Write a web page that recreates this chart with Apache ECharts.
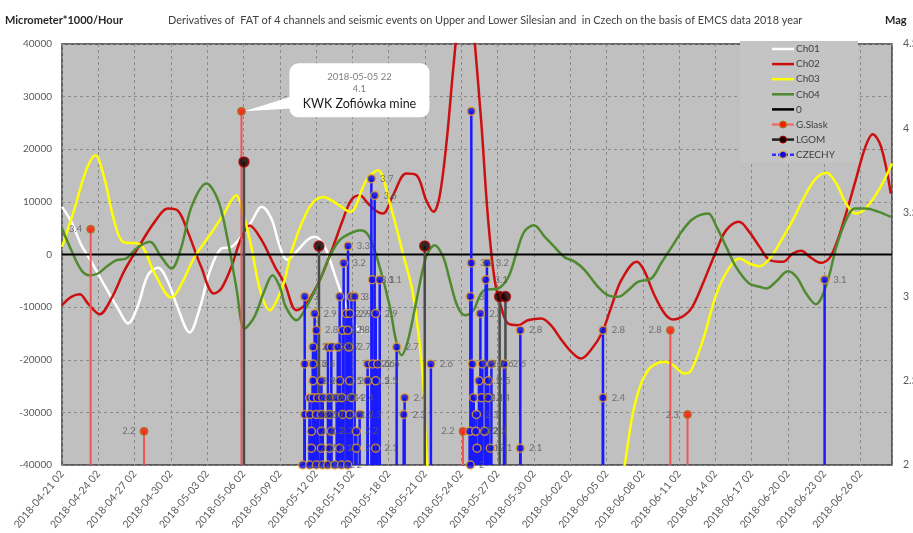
<!DOCTYPE html>
<html>
<head>
<meta charset="utf-8">
<script src="https://cdn.jsdelivr.net/npm/echarts@6/dist/echarts.min.js"></script>
<style>
  html, body { margin: 0; padding: 0; background: #ffffff; }
  #chart { width: 913px; height: 533px; }
</style>
</head>
<body>
<div id="chart"></div>
<script>
// Horizontal position of every point is given in days after 2018-04-21 02:00.
const startTime = Date.UTC(2018, 3, 21, 2);
const dayMin = 0;
const dayMax = 68.6;
const dayStep = 3;

const valueMin = -40000;
const valueMax = 40000;
const valueStep = 10000;

const magMin = 2;
const magMax = 4.5;
const magStep = 0.5;

// Derivative of FAT, micrometer*1000/hour
const ch01 = [[0,9050],[0.77,6200],[1.6,1770],[2.43,-1400],[3.5,-5830],[4.63,-10270],[5.46,-13120],[6.28,-9630],[7.1,-3930],[7.94,-2530],[8.76,-5190],[9.59,-10270],[10.55,-14820],[11.38,-10270],[12.2,-3300],[13.17,1140],[14.0,1450],[14.7,3040],[15.65,6200],[16.5,9050],[17.3,6830],[18.0,1500],[18.6,-1000],[19.4,600],[20.3,2800],[20.9,3360],[21.57,2090],[22.1,-760],[22.7,-4880],[23.5,-9950],[24.3,-13750],[24.85,-14960]];

const ch02 = [[0,-9630],[0.77,-8050],[1.46,-7540],[2.15,-9320],[3.12,-11340],[4.08,-8360],[5.18,-2980],[6.42,1770],[7.66,6200],[8.76,8730],[9.59,8290],[10.4,4300],[11.5,-2340],[12.56,-7410],[13.17,-6460],[14.0,-2340],[14.8,3040],[15.5,5510],[16.5,2720],[17.6,-2340],[18.4,-5510],[19.37,-10580],[20.2,-9320],[21.3,-4880],[22.4,1450],[23.2,6520],[23.9,10320],[24.6,11270],[25.3,9680],[26.0,8220],[26.53,7780],[27.36,11270],[28.46,15390],[29.3,15070],[30.1,10320],[30.7,8100],[31.2,10950],[31.8,21730],[32.3,34400],[32.9,48000],[33.4,54000],[33.8,49000],[34.1,40700],[34.66,24900],[35.2,7150],[35.76,-4880],[36.3,-9950],[36.86,-13120],[37.7,-13440],[38.5,-12490],[39.6,-12170],[40.4,-13440],[41.3,-16290],[42.1,-18510],[42.9,-19780],[43.7,-18190],[44.6,-15020],[45.4,-9950],[46.23,-4880],[47.5,-1390],[48.1,-2980],[48.9,-7410],[49.8,-11210],[50.5,-12350],[51.46,-11530],[52.1,-9950],[52.97,-5510],[54.1,830],[54.9,4630],[55.95,6200],[56.8,4300],[57.66,1450],[58.5,-1080],[59.6,-1390],[60.4,190],[61.1,700],[61.8,-450],[62.7,-1590],[63.4,-760],[64.0,2090],[64.8,7780],[65.6,14120],[66.4,20460],[67.0,22860],[67.7,20460],[68.5,11590]];

const ch03 = [[0,1450],[1.0,8500],[2.0,16000],[2.76,18870],[3.5,14500],[4.3,6500],[5.05,2400],[6.4,2000],[7.66,-3600],[9.04,-8170],[9.9,-5500],[10.96,-450],[12.3,3990],[13.4,7800],[14.4,11270],[14.9,8500],[15.65,1450],[16.4,-7000],[17.2,-10580],[18.0,-7410],[18.4,-4880],[19.09,1450],[20.47,9050],[21.57,10950],[22.7,9680],[23.8,8100],[25.15,14120],[26.1,16020],[27.1,9680],[28.18,177],[29.0,-7410],[29.8,-22600],[30.2,-40000],[31.0,-50000],[34.0,-62000],[40.0,-65000],[44.0,-58000],[46.0,-45000],[46.5,-40000],[47.3,-28970],[48.43,-22000],[49.8,-20400],[50.5,-21000],[51.46,-22600],[52.0,-22000],[52.97,-16290],[54.1,-7410],[55.2,-2340],[56.0,-760],[56.8,-1710],[57.66,-2220],[58.5,-760],[59.3,2090],[60.4,6520],[61.5,11590],[62.3,14440],[63.17,15520],[64.0,13490],[64.8,9680],[65.6,7780],[66.4,8730],[67.5,12220],[68.6,17290]];

const ch04 = [[0,4940],[0.77,820],[1.6,-2980],[2.29,-3930],[2.98,-3610],[3.67,-2340],[4.5,-1080],[5.3,-760],[6.15,1140],[7.25,2400],[8.2,-450],[9.04,-2660],[9.87,1450],[10.7,9050],[11.93,13490],[12.9,10320],[13.7,2720],[14.4,-6140],[15.1,-14060],[15.9,-11840],[16.75,-6770],[17.4,-3930],[18.0,-6140],[18.5,-9950],[19.37,-12490],[20.2,-9950],[21.3,-4880],[22.1,-450],[22.95,2720],[23.8,3990],[24.7,4630],[25.4,3360],[26.25,-2340],[27.1,-9950],[27.6,-16290],[28.05,-19140],[28.6,-16290],[29.3,-8680],[30.1,-450],[30.8,1770],[31.5,-450],[32.05,-4880],[32.7,-9950],[33.3,-11530],[34.0,-10580],[34.5,-8050],[34.9,-6770],[36.03,-6460],[36.9,-4240],[37.55,190],[38.2,4300],[39.0,5560],[39.9,3360],[40.7,1450],[41.5,-450],[42.4,-1400],[43.2,-2980],[44.3,-6140],[45.1,-7730],[45.95,-8050],[46.8,-6770],[47.6,-5190],[48.7,-4560],[49.5,-1710],[50.4,1450],[51.2,4300],[52.0,6500],[52.7,7470],[53.4,7780],[54.1,5250],[54.9,1450],[55.7,-2340],[56.8,-5510],[57.66,-6140],[58.2,-6460],[59.0,-5190],[60.0,-3170],[60.7,-4240],[61.5,-7410],[62.3,-9440],[63.17,-5830],[64.0,1450],[64.8,6520],[65.5,8730],[66.4,8730],[67.5,8100],[68.5,7150]];

const zeroLine = [[dayMin, 0], [dayMax, 0]];

// Seismic events: [day, magnitude]
const gSlask = [[2.37,3.4],[6.78,2.2],[14.833,4.1],[33.14,2.2],[50.28,2.8],[51.7,2.3]];
const lgom = [[15.04,3.8],[21.24,3.3],[29.98,3.3],[36.17,3.0],[36.65,3.0]];
const czechy = [
  [25.57,3.7],[25.84,3.6],[23.64,3.3],[23.28,3.2],[25.65,3.1],[26.26,3.1],
  [20.06,3.0],[22.95,3.0],[23.92,3.0],[24.19,3.0],
  [20.88,2.9],[23.5,2.9],[23.78,2.9],[25.93,2.9],
  [21.02,2.8],[23.2,2.8],[23.61,2.8],
  [20.74,2.7],[21.98,2.7],[22.26,2.7],[22.79,2.7],[23.7,2.7],[27.66,2.7],
  [20.06,2.6],[20.74,2.6],[25.26,2.6],[25.68,2.6],[26.09,2.6],[30.49,2.6],
  [20.74,2.5],[21.44,2.5],[22.95,2.5],[23.78,2.5],[25.26,2.5],[25.93,2.5],
  [20.47,2.4],[20.74,2.4],[21.13,2.4],[21.55,2.4],[22.12,2.4],[22.7,2.4],[23.12,2.4],[23.94,2.4],[28.32,2.4],
  [20.06,2.3],[20.47,2.3],[21.02,2.3],[21.44,2.3],[22.12,2.3],[23.2,2.3],[23.78,2.3],[24.6,2.3],[28.24,2.3],
  [20.61,2.2],[21.44,2.2],[22.26,2.2],[24.33,2.2],
  [20.61,2.1],[21.44,2.1],[22.12,2.1],[22.95,2.1],[24.33,2.1],[25.93,2.1],
  [19.89,2],[20.47,2],[21.02,2],[21.55,2],[21.96,2],[22.54,2],[23.09,2],[23.61,2],
  [33.83,4.1],[33.83,3.2],[35.12,3.2],[35.02,3.1],[33.75,3.0],[34.58,2.9],[37.88,2.8],
  [33.92,2.6],[34.74,2.6],[35.49,2.6],[36.53,2.6],[34.46,2.5],[35.24,2.5],
  [34.03,2.4],[34.66,2.4],[35.21,2.4],[34.25,2.3],[33.69,2.2],[34.19,2.2],[34.93,2.2],
  [34.3,2.1],[35.4,2.1],[37.88,2.1],[33.75,2],
  [44.71,2.8],[44.71,2.4],[63.03,3.1]
];
// Events drawn without a magnitude tag: [day, magnitude]
const czechyUntagged = [[33.83, 4.1]];

// Annotated event (index into gSlask)
const noteIndex = 2;
const noteText = 'KWK Zofiówka mine';

const titleText = 'Derivatives of  FAT of 4 channels and seismic events on Upper and Lower Silesian and  in Czech on the basis of EMCS data 2018 year';
const leftAxisName = 'Micrometer*1000/Hour';
const rightAxisName = 'Mag';

const FONT = 'Lato, "Liberation Sans", sans-serif';
const TEXT_GREY = '#595959';

const colors = {
  Ch01: '#ffffff',
  Ch02: '#cc1010',
  Ch03: '#ffff00',
  Ch04: '#4f8a30',
  zero: '#000000'
};

function pad2(n) { return String(n).padStart(2, '0'); }
function dayToLabel(day) {
  const t = new Date(startTime + Math.round(day * 24) * 3600000);
  return t.getUTCFullYear() + '-' + pad2(t.getUTCMonth() + 1) + '-' + pad2(t.getUTCDate()) + ' ' + pad2(t.getUTCHours());
}
function magLabel(m) { return String(Math.round(m * 10) / 10); }
function isUntagged(v) {
  return czechyUntagged.some(u => u[0] === v[0] && u[1] === v[1]);
}

const chart = echarts.init(document.getElementById('chart'), null, { renderer: 'canvas' });

function channelSeries(name, data) {
  return {
    name, type: 'line', data, xAxisIndex: 0, yAxisIndex: 0,
    showSymbol: false, smooth: 0.35, z: 2, silent: true,
    lineStyle: { color: colors[name], width: 2.5 },
    itemStyle: { color: colors[name] }
  };
}

function stemSeries(name, data, color, width) {
  return {
    name, type: 'custom', xAxisIndex: 0, yAxisIndex: 1, data, z: 3, silent: true,
    encode: { x: 0, y: 1 },
    renderItem: function (params, api) {
      const top = api.coord([api.value(0), api.value(1)]);
      const base = api.coord([api.value(0), magMin]);
      return {
        type: 'line',
        shape: { x1: top[0], y1: top[1], x2: base[0], y2: base[1] },
        style: { stroke: color, lineWidth: width }
      };
    }
  };
}

const series = [
  channelSeries('Ch01', ch01),
  channelSeries('Ch02', ch02),
  channelSeries('Ch03', ch03),
  channelSeries('Ch04', ch04),
  {
    name: '0', type: 'line', data: zeroLine, xAxisIndex: 0, yAxisIndex: 0,
    showSymbol: false, z: 2, silent: true,
    lineStyle: { color: colors.zero, width: 2 }
  },
  stemSeries('G.Slask stems', gSlask, '#ee5555', 2),
  stemSeries('LGOM stems', lgom, '#4a4a4a', 2.5),
  stemSeries('CZECHY stems', czechy, '#1a1aff', 2.5),
  {
    name: 'G.Slask', type: 'scatter', data: gSlask, xAxisIndex: 0, yAxisIndex: 1,
    symbolSize: 8, z: 5, silent: true,
    itemStyle: { color: '#ff1a00', borderColor: '#8a8a20', borderWidth: 1 },
    label: {
      show: true, position: 'left', distance: 4, fontFamily: FONT, fontSize: 9.5, color: TEXT_GREY,
      formatter: p => (p.dataIndex === noteIndex ? '' : magLabel(p.value[1]))
    }
  },
  {
    name: 'LGOM', type: 'scatter', data: lgom, xAxisIndex: 0, yAxisIndex: 1,
    symbolSize: 10, z: 5, silent: true,
    itemStyle: { color: '#100000', borderColor: '#b00000', borderWidth: 1.5 }
  },
  {
    name: 'CZECHY', type: 'scatter', data: czechy, xAxisIndex: 0, yAxisIndex: 1,
    symbolSize: 8, z: 6, silent: true,
    itemStyle: { color: '#0a0ae6', borderColor: '#e8a020', borderWidth: 1.5 },
    label: {
      show: true, position: 'right', distance: 4, fontFamily: FONT, fontSize: 9.5, color: TEXT_GREY,
      formatter: p => (isUntagged(p.value) ? '' : magLabel(p.value[1]))
    }
  }
];

chart.setOption({
  animation: false,
  backgroundColor: '#ffffff',
  textStyle: { fontFamily: FONT },
  title: [
    { text: leftAxisName, left: 0, top: 10, textStyle: { fontFamily: FONT, fontSize: 11, fontWeight: 'bold', color: '#262626' } },
    { text: titleText, left: 163, top: 10, textStyle: { fontFamily: FONT, fontSize: 10.9, fontWeight: 'normal', color: '#404040' } },
    { text: rightAxisName, left: 880, top: 10, textStyle: { fontFamily: FONT, fontSize: 11, fontWeight: 'bold', color: '#262626' } }
  ],
  grid: {
    left: 62, right: 21, top: 44, bottom: 68,
    outerBoundsMode: 'none',
    show: true, backgroundColor: '#c0c0c0', borderColor: '#3a3a3a', borderWidth: 1.5
  },
  xAxis: {
    type: 'value', min: dayMin, max: dayMax, interval: dayStep,
    axisLine: { show: false }, axisTick: { show: false },
    axisLabel: {
      formatter: dayToLabel, rotate: 50, margin: 7, fontFamily: FONT, fontSize: 10.5,
      color: TEXT_GREY, showMaxLabel: false
    },
    splitLine: { show: true, lineStyle: { type: [3, 3], color: '#8a8a8a', width: 1 } }
  },
  yAxis: [
    {
      type: 'value', position: 'left', min: valueMin, max: valueMax, interval: valueStep,
      axisLine: { show: false }, axisTick: { show: false },
      axisLabel: { margin: 10, fontFamily: FONT, fontSize: 10, color: TEXT_GREY, formatter: v => String(v) },
      splitLine: { show: true, lineStyle: { type: [3, 3], color: '#8a8a8a', width: 1 } }
    },
    {
      type: 'value', position: 'right', min: magMin, max: magMax, interval: magStep,
      axisLine: { show: false }, axisTick: { show: false },
      axisLabel: { margin: 11, fontFamily: FONT, fontSize: 10.5, color: TEXT_GREY, formatter: magLabel },
      splitLine: { show: false }
    }
  ],
  series
});

// Legend box in the top-right corner of the plot
const legendItems = [
  { name: 'Ch01', line: colors.Ch01 },
  { name: 'Ch02', line: colors.Ch02 },
  { name: 'Ch03', line: colors.Ch03 },
  { name: 'Ch04', line: colors.Ch04 },
  { name: '0', line: colors.zero },
  { name: 'G.Slask', line: '#ee7070', dot: '#ff1a00', dotBorder: '#8a8a20' },
  { name: 'LGOM', line: '#202020', dot: '#100000', dotBorder: '#b00000' },
  { name: 'CZECHY', line: '#3030ff', dash: true, dot: '#0a0ae6', dotBorder: '#e8a020' }
];
const legendX = 740, legendY = 41, legendW = 118, legendH = 121;
const legendChildren = [{
  type: 'rect', shape: { x: legendX, y: legendY, width: legendW, height: legendH },
  style: { fill: '#c4c4c4' }
}];
legendItems.forEach((it, i) => {
  const y = legendY + 8 + i * 15.1;
  legendChildren.push({
    type: 'line', shape: { x1: 772, y1: y, x2: 794, y2: y },
    style: { stroke: it.line, lineWidth: 2.5, lineDash: it.dash ? [4, 2] : null }
  });
  if (it.dot) {
    legendChildren.push({
      type: 'circle', shape: { cx: 783, cy: y, r: 3.5 },
      style: { fill: it.dot, stroke: it.dotBorder, lineWidth: 1 }
    });
  }
  legendChildren.push({
    type: 'text', x: 796, y: y,
    style: { text: it.name, fontFamily: FONT, fontSize: 10, fill: '#404040', verticalAlign: 'middle', align: 'left' }
  });
});

// Callout attached to the annotated event
const noteEvent = gSlask[noteIndex];
const p = chart.convertToPixel({ xAxisIndex: 0, yAxisIndex: 1 }, noteEvent);
const boxX = p[0] + 48, boxY = p[1] - 48, boxW = 140, boxH = 54;
const calloutChildren = [
  {
    type: 'polygon',
    shape: { points: [[p[0] + 3, p[1]], [boxX + 6, p[1] - 16], [boxX + 6, p[1] - 3]] },
    style: { fill: '#ffffff' }
  },
  {
    type: 'rect', shape: { x: boxX, y: boxY, width: boxW, height: boxH, r: 9 },
    style: { fill: '#ffffff' }
  },
  {
    type: 'text', x: boxX + boxW / 2, y: boxY + 14,
    style: { text: dayToLabel(noteEvent[0]), fontFamily: FONT, fontSize: 9.5, fill: '#7f7f7f', align: 'center', verticalAlign: 'middle' }
  },
  {
    type: 'text', x: boxX + boxW / 2, y: boxY + 26,
    style: { text: magLabel(noteEvent[1]), fontFamily: FONT, fontSize: 9.5, fill: '#7f7f7f', align: 'center', verticalAlign: 'middle' }
  },
  {
    type: 'text', x: boxX + boxW / 2, y: boxY + 41,
    style: { text: noteText, fontFamily: FONT, fontSize: 12.5, fill: '#1a1a1a', align: 'center', verticalAlign: 'middle' }
  }
];

chart.setOption({
  graphic: [
    { type: 'group', z: 100, children: legendChildren },
    { type: 'group', z: 100, children: calloutChildren }
  ]
});
</script>
</body>
</html>
